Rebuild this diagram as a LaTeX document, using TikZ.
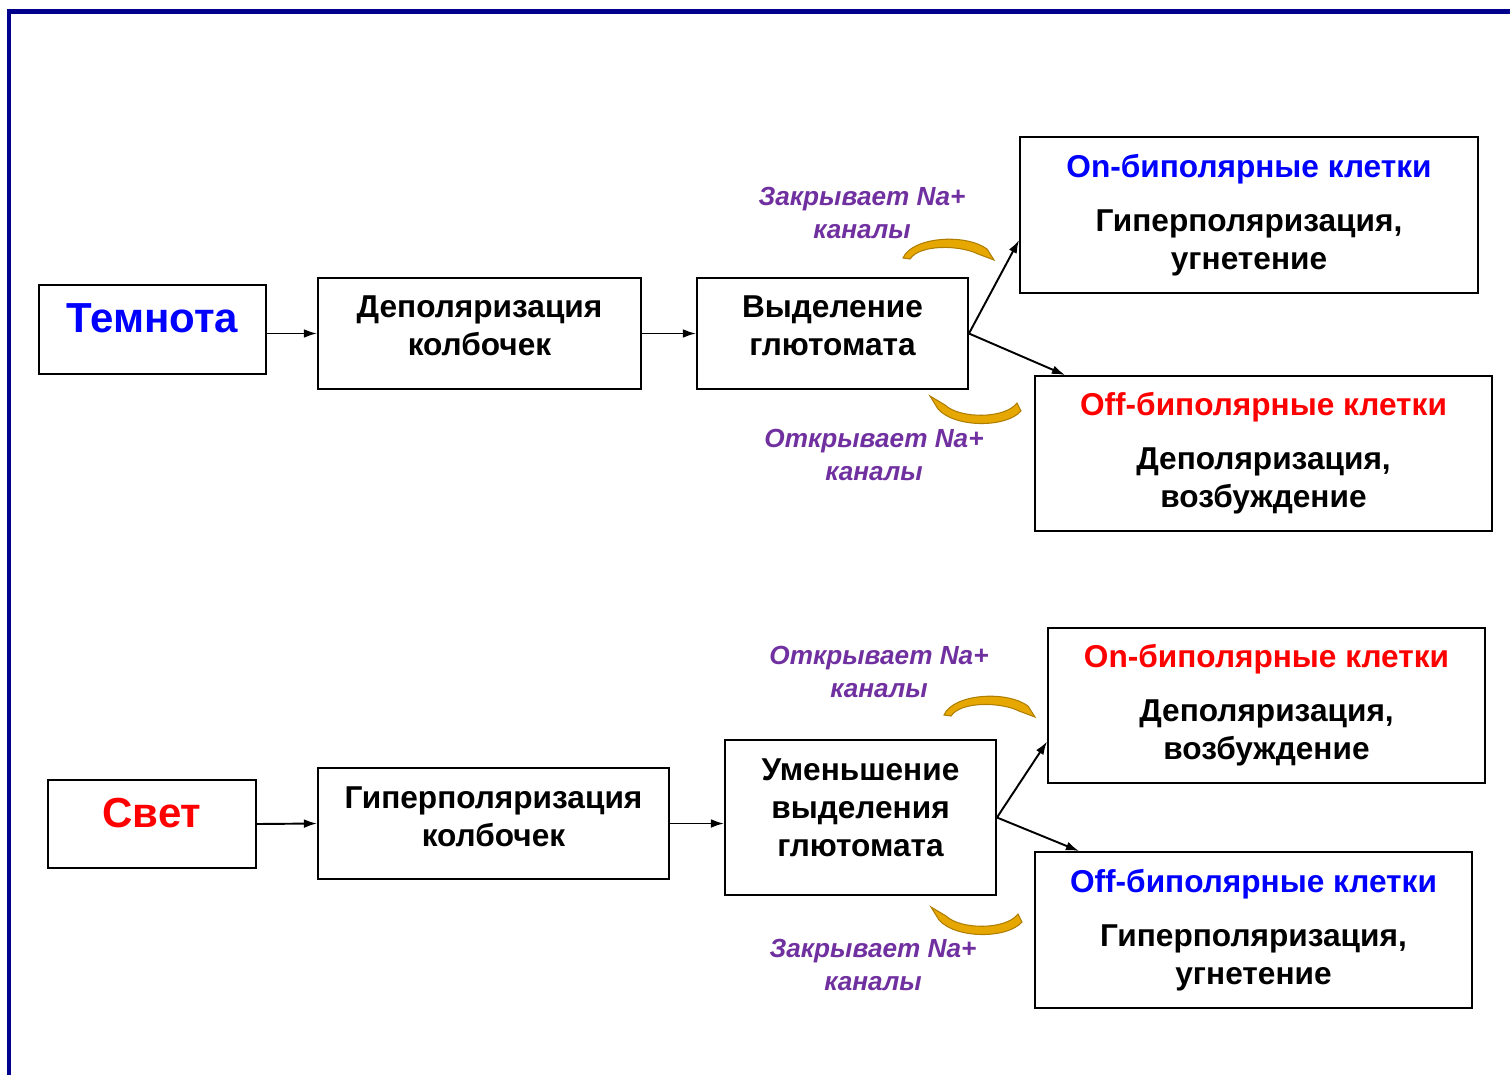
\documentclass[tikz,border=0pt]{standalone}
\usepackage{fontspec}
\setmainfont{Liberation Sans}
\usepackage{xcolor}
\usetikzlibrary{
    arrows.meta,
    calc,
    positioning
}
\definecolor{navyline}{RGB}{0,0,140}
\definecolor{notepurple}{RGB}{112,48,160}
\definecolor{goldfill}{RGB}{230,168,0}
\definecolor{golddraw}{RGB}{175,125,0}

\begin{document}
\begin{tikzpicture}[x=0.02cm, y=-0.02cm,
    box/.style={draw, line width=1.1pt, align=center, inner sep=0pt,
        font=\fontsize{18}{21.6}\selectfont\bfseries},
    note/.style={align=center, text=notepurple,
        font=\fontsize{14.9}{18.8}\selectfont\bfseries\itshape},
    flow/.style={line width=1.1pt, -{Latex[length=7.5pt, width=5pt]}},
    crescent/.style={fill=goldfill, draw=golddraw, line width=0.6pt},
    crestup/.pic={
        \draw[crescent] (0,0) .. controls (9,-21) and (62,-25) .. (84,-9)
            -- (91,2) -- (75,-4) .. controls (57,-13) and (17,-14) .. (7,1) -- cycle;
    },
    crestdown/.pic={
        \draw[crescent] (0,0) -- (8,13) .. controls (25,32) and (76,32) .. (91,15)
            -- (87,7) .. controls (75,23) and (30,23) .. (15,9) -- cycle;
    }]
    \useasboundingbox (0,0) rectangle (1510,1075);
    % frame
    \draw[navyline, line width=0.09cm] (9,1075) -- (9,11.5) -- (1510,11.5);

    % dark
    \node[box, minimum width=4.54cm, minimum height=1.78cm, text depth=0.45cm,
        font=\fontsize{23.9}{28}\selectfont\bfseries, text=blue]
        (tem) at (152.5, 329.5) {Темнота};
    \node[box, minimum width=6.46cm, minimum height=2.22cm, text depth=9pt]
        (dep) at (479.5, 333.5) {Деполяризация\\колбочек};
    \node[box, minimum width=5.42cm, minimum height=2.22cm, text depth=9pt]
        (vyd) at (832.5, 333.5) {Выделение\\глютомата};
    \node[box, minimum width=9.16cm, minimum height=3.12cm] (on1) at (1249, 215)
        {{\color{blue}On-биполярные клетки}\\[9pt]
         Гиперполяризация,\\угнетение};
    \node[box, minimum width=9.14cm, minimum height=3.10cm] (off1) at (1263.5, 453.5)
        {{\color{red}Off-биполярные клетки}\\[9pt]
         Деполяризация,\\возбуждение};
    \node[note] (close1) at (862, 213) {Закрывает Na+\\каналы};
    \node[note] (open1) at (874, 455) {Открывает Na+\\каналы};
    \pic at (903, 258) {crestup};
    \pic at (930, 396) {crestdown};

    \draw[flow] (tem.east |- dep.west) -- (dep.west);
    \draw[flow] (dep.east) -- (vyd.west |- dep.east);
    \draw[flow] (vyd.east) -- ($(on1.west)+(0,25)$);
    \draw[flow] (vyd.east) -- ($(off1.north west)+(31,0)$);

    % light
    \node[box, minimum width=4.16cm, minimum height=1.76cm, text depth=0.45cm,
        font=\fontsize{23.9}{28}\selectfont\bfseries, text=red]
        (svet) at (152, 824) {Свет};
    \node[box, minimum width=7.02cm, minimum height=2.22cm, text depth=8pt]
        (gip) at (493.5, 823.5) {Гиперполяризация\\колбочек};
    \node[box, minimum width=5.42cm, minimum height=3.10cm, text depth=11pt]
        (um) at (860.5, 817.5) {Уменьшение\\выделения\\глютомата};
    \node[box, minimum width=8.74cm, minimum height=3.10cm] (on2) at (1266.5, 705.5)
        {{\color{red}On-биполярные клетки}\\[9pt]
         Деполяризация,\\возбуждение};
    \node[box, minimum width=8.74cm, minimum height=3.12cm] (off2) at (1253.5, 930)
        {{\color{blue}Off-биполярные клетки}\\[9pt]
         Гиперполяризация,\\угнетение};
    \node[note] (open2) at (879, 672) {Открывает Na+\\каналы};
    \node[note] (close2) at (873, 965) {Закрывает Na+\\каналы};
    \pic at (944, 715) {crestup};
    \pic at (931, 907) {crestdown};

    \draw[flow] (svet.east) -- (gip.west);
    \draw[flow] (gip.east) -- (um.west |- gip.east);
    \draw[flow] (um.east) -- ($(on2.west)+(0,36)$);
    \draw[flow] (um.east) -- ($(off2.north west)+(45,0)$);
\end{tikzpicture}
\end{document}
